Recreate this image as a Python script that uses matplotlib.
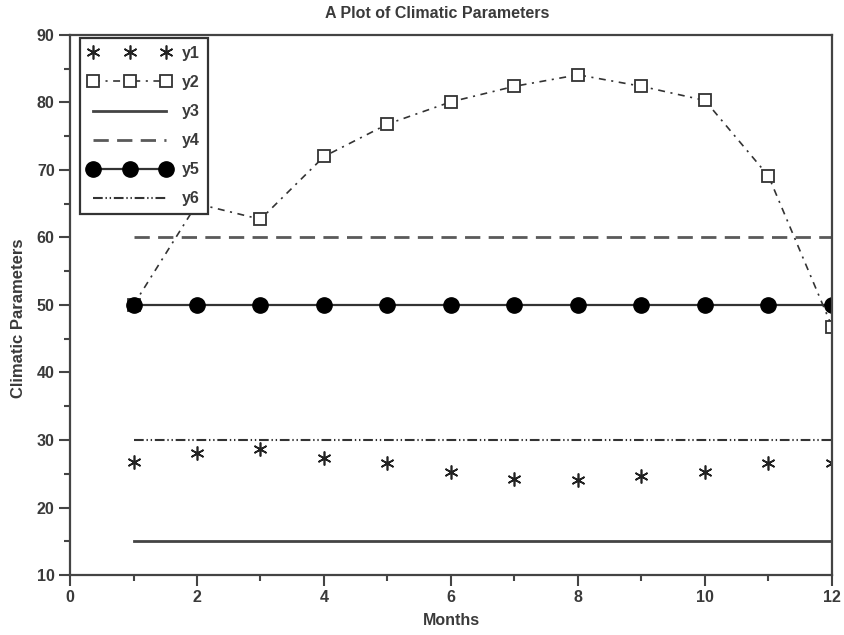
import matplotlib
matplotlib.use("Agg")
import matplotlib.pyplot as plt
from matplotlib.ticker import MultipleLocator

plt.rcParams['font.family'] = ['Liberation Sans', 'DejaVu Sans']
plt.rcParams['font.weight'] = 'bold'
plt.rcParams['axes.labelweight'] = 'bold'
plt.rcParams['lines.scale_dashes'] = False

months = [1, 2, 3, 4, 5, 6, 7, 8, 9, 10, 11, 12]
y1 = [26.8, 28.0, 28.7, 27.4, 26.6, 25.2, 24.2, 24.0, 24.6, 25.2, 26.6, 26.6]
y2 = [50.0, 65.0, 62.7, 72.0, 76.8, 80.1, 82.4, 84.1, 82.4, 80.3, 69.1, 46.8]
y3 = [15] * 12
y4 = [60] * 12
y5 = [50] * 12
y6 = [30] * 12
labels = ["y1", "y2", "y3", "y4", "y5", "y6"]

fig = plt.figure(figsize=(8.45, 6.35), dpi=100)
ax = fig.add_axes([70/845, 1-575/635, (832-70)/845, (575-35)/635])

txt = '#3a3a3a'
l3, = ax.plot(months, y3, color='#444444', lw=2.0, label=labels[2])
l4, = ax.plot(months, y4, color='#5a5a5a', lw=2.0, linestyle=(0, (11, 6)), label=labels[3])
l6, = ax.plot(months, y6, color='#333333', lw=1.5, linestyle=(0, (7, 2, 1, 2, 1, 2)), label=labels[5])
l2, = ax.plot(months, y2, color='#333333', lw=1.2, linestyle=(0, (5, 4, 1.5, 4)), marker='s',
              markersize=8.5, markerfacecolor='white', markeredgecolor='#333333', markeredgewidth=1.3,
              label=labels[1])
l5, = ax.plot(months, y5, color='#333333', lw=1.6, marker='o', markersize=11,
              markerfacecolor='black', markeredgecolor='black', label=labels[4])
l1, = ax.plot(months, y1, linestyle='none', marker=(6, 2, 0), markersize=10, color='#222222',
              markeredgewidth=1.2, label=labels[0])

ax.set_xlim(0, 12)
ax.set_ylim(10, 90)
ax.xaxis.set_major_locator(MultipleLocator(2))
ax.xaxis.set_minor_locator(MultipleLocator(1))
ax.yaxis.set_major_locator(MultipleLocator(10))
ax.yaxis.set_minor_locator(MultipleLocator(5))
ax.tick_params(which='both', direction='out', top=False, right=False, color='#444444',
               labelcolor=txt, labelsize=11.5, width=1.5)
ax.tick_params(which='major', length=8, pad=3)
ax.tick_params(which='minor', length=4)
for s in ax.spines.values():
    s.set_linewidth(1.6)
    s.set_color('#444444')

fig.text(437/845, 1 - 14/635, "A Plot of Climatic Parameters", fontsize=11.5, color=txt,
         ha='center', va='center', fontweight='bold')
ax.set_xlabel("Months", fontsize=11.5, color=txt, fontweight='bold')
ax.xaxis.set_label_coords(0.5, (575 - 613) / 540)
ax.xaxis.label.set_va('top')
ax.set_ylabel("Climatic Parameters", fontsize=12, color=txt, fontweight='bold')
ax.yaxis.set_label_coords((26 - 70) / 762, (575 - 318) / 540)

leg = ax.legend(handles=[l1, l2, l3, l4, l5, l6], labels=labels, loc='upper left',
                bbox_to_anchor=(10/762, 1 - 3/540), borderaxespad=0, numpoints=3,
                handlelength=5.2, handletextpad=0.7, fancybox=False, framealpha=1,
                edgecolor='#333333', fontsize=11.5, labelspacing=0.88, borderpad=0.5,
                labelcolor=txt)
leg.get_frame().set_linewidth(1.6)
leg.set_zorder(10)

fig.savefig("out.png", dpi=100)
